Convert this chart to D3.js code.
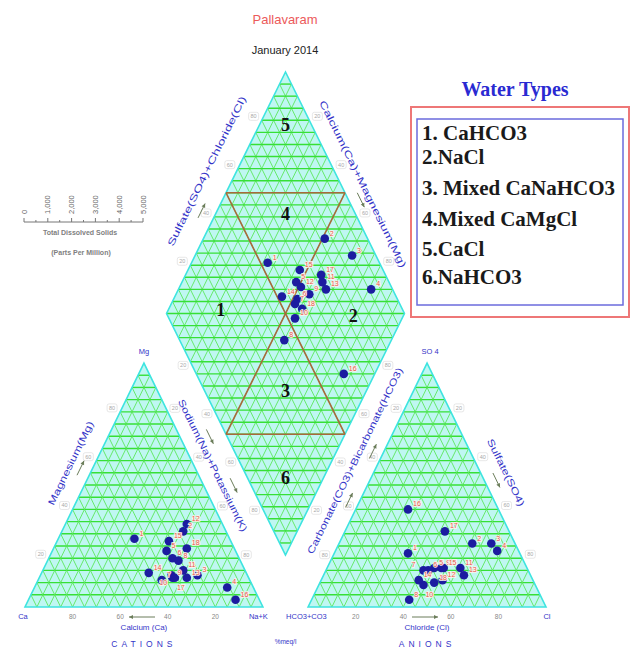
<!DOCTYPE html>
<html>
<head>
<meta charset="utf-8">
<script src="https://cdn.jsdelivr.net/npm/d3@7"></script>
<style>
  body { margin: 0; background: #fff; }
  svg { display: block; }
</style>
</head>
<body>
<svg id="chart" width="633" height="652"></svg>
<script>
// ---- sample chemistry (% meq/l) ----
const sampleIds = [1, 2, 3, 4, 5, 6, 7, 8, 9, 10, 11, 12, 13, 14, 15, 16, 17, 18];
const calcium = [40, 18, 21, 11, 29, 28, 37, 26, 32, 32, 26, 15, 26, 41, 26, 10, 31, 20];
const magnesium = [28, 31, 13, 8, 23, 20, 11, 19, 12, 13, 15, 34, 12, 14, 27, 3, 12, 24];
const sodiumPotassium = [32, 51, 66, 81, 48, 52, 52, 55, 56, 55, 59, 51, 62, 45, 47, 87, 57, 56];
const bicarbonate = [47, 18, 10, 9, 39, 42, 44, 56, 36, 47, 28, 38, 28, 48, 35, 38, 27, 42];
const sulfate = [22, 26, 26, 23, 16, 15, 15, 3, 16, 9, 16, 11, 13, 11, 16, 40, 31, 10];
const chloride = [31, 56, 64, 68, 45, 43, 41, 41, 48, 44, 56, 51, 59, 41, 49, 22, 42, 48];

const waterTypes = ["1. CaHCO3", "2.NaCl", "3. Mixed CaNaHCO3", "4.Mixed CaMgCl", "5.CaCl", "6.NaHCO3"];
const tdsTicks = [0, 1000, 2000, 3000, 4000, 5000];
const percentTicks = [20, 40, 60, 80];

// ---- layout ----
const svg = d3.select("#chart");
const gap = 0.19;                       // space between the two triangles (in triangle-side units)
const x = d3.scaleLinear().domain([0, 2 + gap]).range([25, 546]);
const y = d3.scaleLinear().domain([0, 2.193]).range([607, 72]);
const px = p => [x(p[0]), y(p[1])];

const SANS = "'Liberation Sans', Arial, sans-serif";
const SERIF = "'Liberation Serif', 'Times New Roman', serif";
const BLUE = "#3434c8";

// regions as affine frames: origin + a*A + b*B
const dBase = 0.213, dHalf = 0.99;      // diamond bottom and half-height
const cationTri = { o: [0, 0], A: [1, 0], B: [0.5, 1], kind: "tri" };
const anionTri = { o: [1 + gap, 0], A: [1, 0], B: [0.5, 1], kind: "tri" };
const diamond = { o: [1 + gap / 2, dBase], A: [-0.5, dHalf], B: [0.5, dHalf], kind: "quad" };
const at = (r, a, b) => [r.o[0] + a * r.A[0] + b * r.B[0], r.o[1] + a * r.A[1] + b * r.B[1]];

function outline(r) {
  const pts = r.kind === "tri"
    ? [at(r, 0, 0), at(r, 1, 0), at(r, 0, 1)]
    : [at(r, 0, 0), at(r, 1, 0), at(r, 1, 1), at(r, 0, 1)];
  return pts.map(px);
}

function gridSegments(r) {
  const segs = [];
  const n = 20;
  if (r.kind === "tri") {
    for (let k = 1; k < n; k++) {
      const t = k / n;
      segs.push({ dir: "a", p: [at(r, t, 0), at(r, t, 1 - t)] });
      segs.push({ dir: "b", p: [at(r, 0, t), at(r, 1 - t, t)] });
      segs.push({ dir: "c", p: [at(r, t, 0), at(r, 0, t)] });
    }
  } else {
    for (let k = 1; k < n; k++) {
      const t = k / n;
      segs.push({ dir: "a", p: [at(r, t, 0), at(r, t, 1)] });
      segs.push({ dir: "b", p: [at(r, 0, t), at(r, 1, t)] });
    }
    for (let k = 1; k < 2 * n; k++) {
      const t = k / n;
      const p = t <= 1 ? [at(r, t, 0), at(r, 0, t)] : [at(r, 1, t - 1), at(r, t - 1, 1)];
      segs.push({ dir: "h", p });
    }
  }
  return segs;
}
// which family of lines runs horizontally
const isHorizontal = (r, d) => (r.kind === "tri" ? d.dir === "b" : d.dir === "h");

const plotG = svg.append("g");
[cationTri, anionTri, diamond].forEach(r => {
  const poly = outline(r);
  plotG.append("polygon")
    .attr("points", poly.map(p => p.join(",")).join(" "))
    .attr("fill", "#bff7f2");
  const segs = gridSegments(r);
  plotG.append("g").selectAll("line").data(segs).join("line")
    .attr("x1", d => x(d.p[0][0])).attr("y1", d => y(d.p[0][1]))
    .attr("x2", d => x(d.p[1][0])).attr("y2", d => y(d.p[1][1]))
    .attr("stroke", d => isHorizontal(r, d) ? "#36e036" : "#5ce85c")
    .attr("stroke-width", d => isHorizontal(r, d) ? 1.4 : 0.9);
  plotG.append("polygon")
    .attr("points", poly.map(p => p.join(",")).join(" "))
    .attr("fill", "none").attr("stroke", "#3ee4e0").attr("stroke-width", 1.6);
});

// hydrochemical facies boundaries inside the diamond
const facies = [
  [at(diamond, 0.5, 0), at(diamond, 0.5, 1)],
  [at(diamond, 0, 0.5), at(diamond, 1, 0.5)],
  [at(diamond, 1, 0.5), at(diamond, 0.5, 1)],
  [at(diamond, 0.5, 0), at(diamond, 0, 0.5)]
];
plotG.append("g").selectAll("line").data(facies).join("line")
  .attr("x1", d => x(d[0][0])).attr("y1", d => y(d[0][1]))
  .attr("x2", d => x(d[1][0])).attr("y2", d => y(d[1][1]))
  .attr("stroke", "#a8693c").attr("stroke-width", 1.6);

// facies numbers
const faciesNumbers = [
  { t: "5", u: 0.89, s: 0.89 }, { t: "4", u: 0.705, s: 0.705 }, { t: "1", u: 0.78, s: 0.235 },
  { t: "2", u: 0.21, s: 0.78 }, { t: "3", u: 0.34, s: 0.34 }, { t: "6", u: 0.16, s: 0.16 }
];
plotG.append("g").selectAll("text").data(faciesNumbers).join("text")
  .attr("x", d => x(at(diamond, d.u, d.s)[0]))
  .attr("y", d => y(at(diamond, d.u, d.s)[1]) + 6)
  .attr("text-anchor", "middle")
  .attr("font-family", SERIF).attr("font-weight", "bold").attr("font-size", 18)
  .attr("fill", "#111").text(d => d.t);

// ---- edge annotations ----
function edgeFrame(p1, p2) {
  const a = px(p1), b = px(p2);
  const len = Math.hypot(b[0] - a[0], b[1] - a[1]);
  const e = [(b[0] - a[0]) / len, (b[1] - a[1]) / len];
  return { a, e, len, ang: Math.atan2(e[1], e[0]) * 180 / Math.PI };
}
// point at fraction t along an edge, pushed d px to one side of it
function along(f, t, d, side) {
  const nrm = side > 0 ? [-f.e[1], f.e[0]] : [f.e[1], -f.e[0]];
  return [f.a[0] + f.e[0] * f.len * t + nrm[0] * d, f.a[1] + f.e[1] * f.len * t + nrm[1] * d];
}

const annoG = svg.append("g");
function edgeLabel(p1, p2, t, d, side, text, len) {
  const f = edgeFrame(p1, p2);
  const c = along(f, t, d, side);
  annoG.append("text")
    .attr("transform", `translate(${c[0]},${c[1]}) rotate(${f.ang})`)
    .attr("text-anchor", "middle").attr("dy", "0.35em")
    .attr("font-family", SANS).attr("font-size", 9.5).attr("fill", BLUE)
    .attr("textLength", len).attr("lengthAdjust", "spacingAndGlyphs")
    .text(text);
}
function edgeTicks(p1, p2, d, side, labels) {
  const f = edgeFrame(p1, p2);
  labels.forEach((lab, i) => {
    const c = along(f, (i + 1) / 5, d, side);
    annoG.append("rect").attr("x", c[0] - 5).attr("y", c[1] - 4).attr("width", 10).attr("height", 8)
      .attr("rx", 2).attr("fill", "#fff").attr("stroke", "#d6d6d6").attr("stroke-width", 0.6);
    annoG.append("text").attr("x", c[0]).attr("y", c[1]).attr("dy", "0.35em")
      .attr("text-anchor", "middle").attr("font-family", SANS).attr("font-size", 5.5)
      .attr("fill", "#a8a8a8").text(lab);
  });
}
function edgeArrow(p1, p2, t, d, side, length) {
  const f = edgeFrame(p1, p2);
  const c = along(f, t, d, side);
  const h = length / 2;
  const s = [c[0] - f.e[0] * h, c[1] - f.e[1] * h];
  const e = [c[0] + f.e[0] * h, c[1] + f.e[1] * h];
  annoG.append("line").attr("x1", s[0]).attr("y1", s[1]).attr("x2", e[0]).attr("y2", e[1])
    .attr("stroke", "#6b7d5a").attr("stroke-width", 1);
  const nx = -f.e[1], ny = f.e[0];
  const back = [e[0] - f.e[0] * 4, e[1] - f.e[1] * 4];
  annoG.append("polygon")
    .attr("points", [e, [back[0] + nx * 2, back[1] + ny * 2], [back[0] - nx * 2, back[1] - ny * 2]].map(p => p.join(",")).join(" "))
    .attr("fill", "#6b7d5a");
}

const cCa = at(cationTri, 0, 0), cNa = at(cationTri, 1, 0), cMg = at(cationTri, 0, 1);
const aHC = at(anionTri, 0, 0), aCl = at(anionTri, 1, 0), aSO = at(anionTri, 0, 1);
const dB = at(diamond, 0, 0), dL = at(diamond, 1, 0), dT = at(diamond, 1, 1), dR = at(diamond, 0, 1);

const tickTxt = percentTicks.map(String);
const tickRev = percentTicks.slice().reverse().map(String);

// cation triangle sides
edgeTicks(cCa, cMg, 9, -1, tickTxt);
edgeLabel(cCa, cMg, 0.55, 22, -1, "Magnesium(Mg)", 92);
edgeArrow(cCa, cMg, 0.55, 11, -1, 16);
edgeTicks(cMg, cNa, 8, -1, tickTxt);
edgeLabel(cMg, cNa, 0.45, 17, -1, "Sodium(Na)+Potassium(K)", 146);
edgeArrow(cMg, cNa, 0.35, 27, -1, 16);
edgeArrow(cMg, cNa, 0.55, 27, -1, 16);

// anion triangle sides
edgeTicks(aHC, aSO, 8, -1, tickRev);
edgeLabel(aHC, aSO, 0.56, 22, -1, "Carbonate(CO3)+Bicarbonate(HCO3)", 206);
edgeArrow(aHC, aSO, 0.62, 10, -1, 16);
edgeArrow(aHC, aSO, 0.42, 10, -1, 16);
edgeTicks(aSO, aCl, 9, -1, tickTxt);
edgeLabel(aSO, aCl, 0.49, 23, -1, "Sulfate(SO4)", 74);
edgeArrow(aSO, aCl, 0.5, 11, -1, 16);

// diamond sides
edgeTicks(dB, dL, 8, -1, tickRev);
edgeTicks(dL, dT, 9, -1, tickTxt);
edgeLabel(dL, dT, 0.54, 27, -1, "Sulfate(SO4)+Chloride(Cl)", 166);
edgeArrow(dL, dT, 0.4, 14, -1, 16);
edgeTicks(dT, dR, 9, -1, tickTxt);
edgeLabel(dT, dR, 0.5, 20, -1, "Calcium(Ca)+Magnesium(Mg)", 185);
edgeArrow(dT, dR, 0.55, 11, -1, 16);
edgeTicks(dB, dR, 8, 1, tickTxt);

// base tick labels
const baseG = svg.append("g").attr("font-family", SANS);
percentTicks.forEach(v => {
  const cp = px(at(cationTri, 1 - v / 100, 0));
  baseG.append("text").attr("x", cp[0]).attr("y", 619).attr("text-anchor", "middle")
    .attr("font-size", 6.5).attr("fill", "#888").text(v);
  const ap = px(at(anionTri, v / 100, 0));
  baseG.append("text").attr("x", ap[0]).attr("y", 619).attr("text-anchor", "middle")
    .attr("font-size", 6.5).attr("fill", "#888").text(v);
});
const corner = (t, p, dx, dy, anchor) => baseG.append("text").attr("x", x(p[0]) + dx).attr("y", y(p[1]) + dy)
  .attr("text-anchor", anchor).attr("font-size", 7.5).attr("fill", BLUE).text(t);
corner("Ca", cCa, -2, 12, "middle");
corner("Na+K", cNa, -14, 12, "start");
corner("Mg", cMg, 0, -9, "middle");
corner("HCO3+CO3", aHC, -22, 12, "start");
corner("Cl", aCl, 1, 12, "middle");
corner("SO 4", aSO, 3, -9, "middle");

// base arrows & titles
function hArrow(x1, x2, yy) {
  baseG.append("line").attr("x1", x1).attr("x2", x2).attr("y1", yy).attr("y2", yy)
    .attr("stroke", "#6b7d5a").attr("stroke-width", 1);
  const dir = Math.sign(x2 - x1);
  baseG.append("polygon").attr("points", `${x2},${yy} ${x2 - dir * 4},${yy - 2} ${x2 - dir * 4},${yy + 2}`)
    .attr("fill", "#6b7d5a");
}
hArrow(155, 129, 617);
hArrow(412, 438, 617);
baseG.append("text").attr("x", x(0.5)).attr("y", 630).attr("text-anchor", "middle")
  .attr("font-size", 8).attr("fill", BLUE).text("Calcium (Ca)");
baseG.append("text").attr("x", x(1.5 + gap)).attr("y", 630).attr("text-anchor", "middle")
  .attr("font-size", 8).attr("fill", BLUE).text("Chloride (Cl)");
baseG.append("text").attr("x", x(0.5)).attr("y", 647).attr("text-anchor", "middle")
  .attr("font-size", 8.5).attr("letter-spacing", 4).attr("fill", BLUE).text("CATIONS");
baseG.append("text").attr("x", x(1.5 + gap)).attr("y", 647).attr("text-anchor", "middle")
  .attr("font-size", 8.5).attr("letter-spacing", 4).attr("fill", BLUE).text("ANIONS");
baseG.append("text").attr("x", x(1 + gap / 2)).attr("y", 644).attr("text-anchor", "middle")
  .attr("font-size", 6.5).attr("fill", BLUE).text("%meq/l");

// ---- samples ----
const samples = sampleIds.map((id, i) => {
  const u = (calcium[i] + magnesium[i]) / 100;
  const s = (sulfate[i] + chloride[i]) / 100;
  return {
    id,
    cat: at(cationTri, sodiumPotassium[i] / 100, magnesium[i] / 100),
    an: at(anionTri, chloride[i] / 100, sulfate[i] / 100),
    dia: at(diamond, u, s)
  };
});
// label offsets for points in crowded clusters (default: up-right of the point)
const labelShift = {
  cat: { 10: [-12, 10], 17: [2, 12] },
  an: { 7: [-12, -3], 10: [2, 12] },
  dia: {}
};
const shiftOf = (key, id) => labelShift[key][id] || [5, -3];
const ptG = svg.append("g");
["cat", "an", "dia"].forEach(key => {
  ptG.append("g").selectAll("circle").data(samples).join("circle")
    .attr("cx", d => x(d[key][0])).attr("cy", d => y(d[key][1]))
    .attr("r", 4.3).attr("fill", "#1c1ca0");
  ptG.append("g").selectAll("text").data(samples).join("text")
    .attr("x", d => x(d[key][0]) + shiftOf(key, d.id)[0])
    .attr("y", d => y(d[key][1]) + shiftOf(key, d.id)[1])
    .attr("font-family", SANS).attr("font-size", 7).attr("fill", "#e0574a")
    .attr("stroke", "#fff3ee").attr("stroke-width", 1.6).attr("paint-order", "stroke")
    .text(d => d.id);
});

// ---- titles ----
svg.append("text").attr("x", 285).attr("y", 24).attr("text-anchor", "middle")
  .attr("font-family", SANS).attr("font-size", 13).attr("fill", "#ec5a5a").text("Pallavaram");
svg.append("text").attr("x", 285).attr("y", 54).attr("text-anchor", "middle")
  .attr("font-family", SANS).attr("font-size", 11).attr("fill", "#222").text("January 2014");

// ---- TDS scale ----
const tds = d3.scaleLinear().domain([0, 5000]).range([24, 143]);
const tdsG = svg.append("g").attr("transform", "translate(0,222)");
tdsG.append("line").attr("x1", tds(0)).attr("x2", tds(5000)).attr("stroke", "#777");
tdsG.selectAll("line.tk").data(d3.range(0, 5001, 500)).join("line").attr("class", "tk")
  .attr("x1", d => tds(d)).attr("x2", d => tds(d)).attr("y1", 0).attr("y2", d => d % 1000 ? -2 : -4)
  .attr("stroke", "#777");
tdsG.selectAll("text").data(tdsTicks).join("text")
  .attr("transform", d => `translate(${tds(d) + 2.5},-8) rotate(-90)`)
  .attr("font-family", SANS).attr("font-size", 7.5).attr("fill", "#666")
  .text(d => d3.format(",")(d));
svg.append("text").attr("x", 80).attr("y", 235).attr("text-anchor", "middle")
  .attr("font-family", SANS).attr("font-size", 7).attr("font-weight", "bold").attr("fill", "#808080")
  .text("Total Dissolved Solids");
svg.append("text").attr("x", 81).attr("y", 255).attr("text-anchor", "middle")
  .attr("font-family", SANS).attr("font-size", 7).attr("font-weight", "bold").attr("fill", "#808080")
  .text("(Parts Per Million)");

// ---- water type legend ----
const legG = svg.append("g");
legG.append("text").attr("x", 515).attr("y", 96).attr("text-anchor", "middle")
  .attr("font-family", SERIF).attr("font-weight", "bold").attr("font-size", 20).attr("fill", "#2a2ad2")
  .text("Water Types");
legG.append("rect").attr("x", 411).attr("y", 107).attr("width", 218).attr("height", 210)
  .attr("fill", "#fff").attr("stroke", "#ee7777").attr("stroke-width", 2);
legG.append("rect").attr("x", 417).attr("y", 119).attr("width", 206).attr("height", 186)
  .attr("fill", "none").attr("stroke", "#6b6bdd").attr("stroke-width", 1.5);
const legRows = [140, 164, 195, 226, 256, 284];
legG.selectAll("text.row").data(waterTypes).join("text").attr("class", "row")
  .attr("x", 422).attr("y", (d, i) => legRows[i])
  .attr("font-family", SERIF).attr("font-weight", "bold").attr("font-size", 21).attr("fill", "#1a1a1a")
  .text(d => d);
</script>
</body>
</html>
